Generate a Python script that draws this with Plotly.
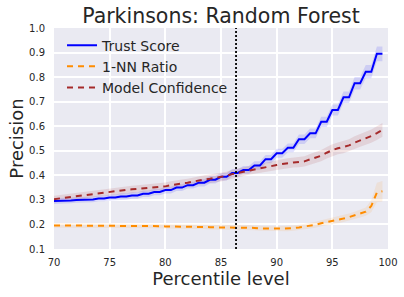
import plotly.graph_objects as go

percentile = [70 + 0.5 * i for i in range(60)]

trust_score = [
    0.295, 0.295, 0.298, 0.298, 0.300, 0.300, 0.302, 0.302, 0.306, 0.306,
    0.310, 0.310, 0.314, 0.314, 0.318, 0.318, 0.325, 0.325, 0.332, 0.332,
    0.340, 0.340, 0.350, 0.350, 0.360, 0.360, 0.370, 0.370, 0.382, 0.382,
    0.394, 0.394, 0.410, 0.410, 0.422, 0.422, 0.440, 0.440, 0.466, 0.466,
    0.490, 0.490, 0.512, 0.512, 0.547, 0.547, 0.571, 0.571, 0.618, 0.618,
    0.666, 0.666, 0.718, 0.718, 0.775, 0.775, 0.822, 0.822, 0.895, 0.895,
]
trust_band = [
    0.012, 0.012, 0.012, 0.012, 0.012, 0.012, 0.012, 0.012, 0.012, 0.012,
    0.012, 0.012, 0.013, 0.013, 0.013, 0.013, 0.013, 0.013, 0.013, 0.013,
    0.014, 0.014, 0.014, 0.014, 0.014, 0.014, 0.015, 0.015, 0.015, 0.015,
    0.015, 0.015, 0.016, 0.016, 0.016, 0.016, 0.017, 0.017, 0.017, 0.017,
    0.018, 0.018, 0.018, 0.018, 0.019, 0.019, 0.020, 0.020, 0.021, 0.021,
    0.022, 0.022, 0.023, 0.023, 0.025, 0.025, 0.027, 0.027, 0.030, 0.030,
]

model_confidence = [
    0.303, 0.306, 0.310, 0.313, 0.317, 0.320, 0.323, 0.326, 0.329, 0.331,
    0.333, 0.336, 0.339, 0.341, 0.343, 0.345, 0.347, 0.349, 0.350, 0.352,
    0.355, 0.360, 0.365, 0.367, 0.370, 0.375, 0.380, 0.383, 0.386, 0.389,
    0.392, 0.398, 0.405, 0.410, 0.415, 0.420, 0.425, 0.428, 0.432, 0.437,
    0.442, 0.446, 0.450, 0.452, 0.454, 0.457, 0.465, 0.472, 0.480, 0.492,
    0.503, 0.510, 0.515, 0.522, 0.533, 0.542, 0.550, 0.560, 0.572, 0.585,
]
confidence_band = [
    0.014, 0.014, 0.014, 0.014, 0.014, 0.014, 0.014, 0.014, 0.014, 0.014,
    0.015, 0.015, 0.015, 0.015, 0.015, 0.015, 0.015, 0.015, 0.015, 0.015,
    0.016, 0.016, 0.016, 0.016, 0.016, 0.016, 0.017, 0.017, 0.017, 0.017,
    0.017, 0.017, 0.018, 0.018, 0.018, 0.018, 0.019, 0.019, 0.019, 0.019,
    0.020, 0.020, 0.020, 0.020, 0.021, 0.021, 0.022, 0.022, 0.023, 0.023,
    0.024, 0.024, 0.025, 0.025, 0.026, 0.026, 0.027, 0.027, 0.028, 0.028,
]

nn_ratio = [
    0.196, 0.196, 0.196, 0.196, 0.196, 0.196, 0.196, 0.196, 0.196, 0.196,
    0.196, 0.195, 0.195, 0.194, 0.193, 0.193, 0.193, 0.193, 0.193, 0.193,
    0.192, 0.192, 0.192, 0.192, 0.192, 0.192, 0.191, 0.191, 0.189, 0.188,
    0.188, 0.188, 0.188, 0.188, 0.188, 0.188, 0.186, 0.184, 0.183, 0.183,
    0.183, 0.183, 0.183, 0.185, 0.188, 0.191, 0.194, 0.199, 0.205, 0.209,
    0.214, 0.219, 0.224, 0.230, 0.237, 0.244, 0.252, 0.275, 0.330, 0.335,
]
nn_band = [
    0.009, 0.009, 0.009, 0.009, 0.009, 0.009, 0.009, 0.009, 0.009, 0.009,
    0.009, 0.009, 0.009, 0.009, 0.009, 0.009, 0.009, 0.009, 0.009, 0.009,
    0.009, 0.009, 0.009, 0.009, 0.009, 0.009, 0.010, 0.010, 0.010, 0.010,
    0.010, 0.010, 0.010, 0.010, 0.010, 0.010, 0.010, 0.010, 0.010, 0.010,
    0.010, 0.010, 0.011, 0.011, 0.011, 0.011, 0.012, 0.012, 0.012, 0.013,
    0.013, 0.014, 0.014, 0.015, 0.015, 0.016, 0.017, 0.025, 0.040, 0.042,
]

cutoff_percentile = 86.35

x_ticks = [70, 75, 80, 85, 90, 95, 100]
y_ticks = [0.1, 0.2, 0.3, 0.4, 0.5, 0.6, 0.7, 0.8, 0.9, 1.0]

series = [
    ("Trust Score", trust_score, trust_band, "#0000ff", "rgba(0,0,255,0.12)", "solid"),
    ("1-NN Ratio", nn_ratio, nn_band, "#ff8c00", "rgba(255,140,0,0.10)", "6px,5px"),
    ("Model Confidence", model_confidence, confidence_band, "#a52a2a", "rgba(165,42,42,0.12)", "6px,5px"),
]

fig = go.Figure()
for name, vals, band, color, fillc, dash in series:
    upper = [v + b for v, b in zip(vals, band)]
    lower = [v - b for v, b in zip(vals, band)]
    fig.add_trace(go.Scatter(x=percentile, y=upper, mode="lines", line=dict(width=0),
                             showlegend=False, hoverinfo="skip"))
    fig.add_trace(go.Scatter(x=percentile, y=lower, mode="lines", line=dict(width=0),
                             fill="tonexty", fillcolor=fillc, showlegend=False, hoverinfo="skip"))

for name, vals, band, color, fillc, dash in series:
    fig.add_trace(go.Scatter(x=percentile, y=vals, mode="lines", name=name,
                             line=dict(color=color, width=2, dash=dash)))

fig.add_shape(type="line", xref="x", yref="paper", x0=cutoff_percentile, x1=cutoff_percentile,
              y0=0, y1=1, line=dict(color="black", width=1.8, dash="2px,2px"))

fig.update_layout(
    width=404, height=297,
    margin=dict(l=54, r=16, t=28, b=48),
    paper_bgcolor="white", plot_bgcolor="#EAEAF2",
    font=dict(family="DejaVu Sans", color="#262626"),
    title=dict(text="Parkinsons: Random Forest", font=dict(size=20.5, color="#262626"),
               x=(54 + 388) / 2 / 404, xanchor="center",
               yref="container", y=1 - 15.5 / 297, yanchor="middle"),
    showlegend=True,
    legend=dict(x=0.024, y=0.993, xanchor="left", yanchor="top", bgcolor="rgba(0,0,0,0)",
                traceorder="normal",
                font=dict(size=14, color="#262626"), borderwidth=0),
    xaxis=dict(range=[70, 100], tickvals=x_ticks, showgrid=True, gridcolor="white",
               gridwidth=1.5, zeroline=False, showline=False, ticks="outside", ticklen=4,
               tickcolor="rgba(0,0,0,0)", automargin=False,
               tickfont=dict(size=10, color="#262626"),
               title=dict(text="Percentile level", font=dict(size=18), standoff=4)),
    yaxis=dict(range=[0.1, 1.0], tickvals=y_ticks, tickformat=".1f", showgrid=True,
               gridcolor="white", gridwidth=1.5, zeroline=False, showline=False,
               ticks="outside", ticklen=6, tickcolor="rgba(0,0,0,0)", automargin=False,
               tickfont=dict(size=10, color="#262626"),
               title=dict(text="Precision", font=dict(size=18), standoff=0)),
)

fig.write_html("out.html", config={"displayModeBar": False},
               post_script="document.body.style.margin='0';")
